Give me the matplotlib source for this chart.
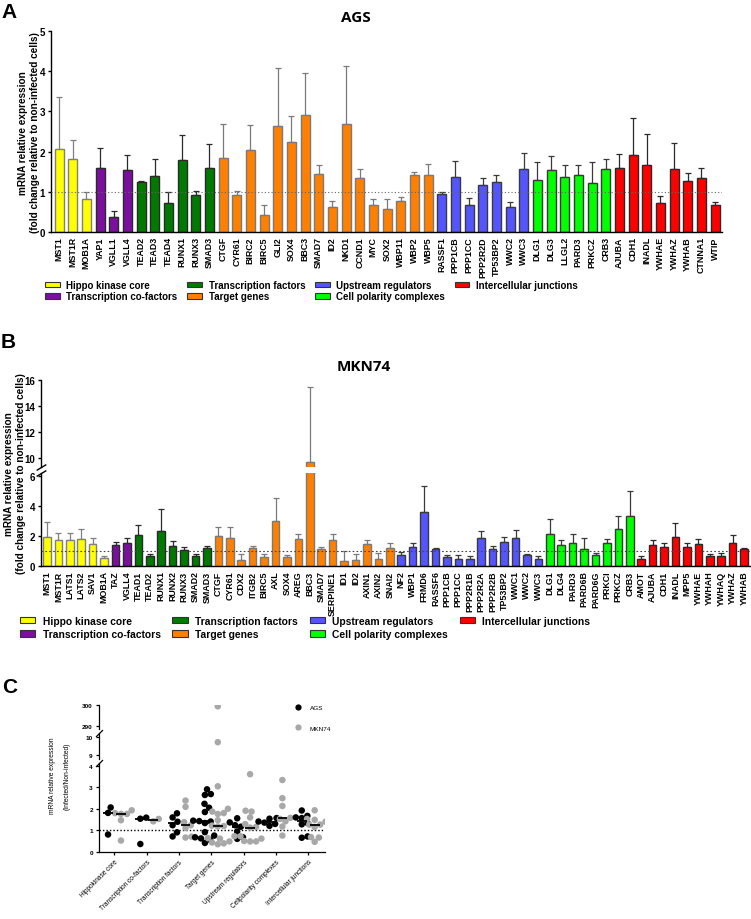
import matplotlib
matplotlib.use('Agg')
import matplotlib.pyplot as plt
import numpy as np
from matplotlib.patches import Patch
from matplotlib.lines import Line2D

plt.rcParams['font.family'] = ['Liberation Sans', 'DejaVu Sans']

# ---------------- data ----------------
group_names = ['Hippo kinase core', 'Transcription co-factors', 'Transcription factors',
               'Target genes', 'Upstream regulators', 'Cell polarity complexes',
               'Intercellular junctions']
group_colors = ['#FFFF00', '#7B0FA0', '#007A00', '#FF8000', '#5555FF', '#00FF00', '#FF0000']
group_edges = ['#808080', '#2a2a2a', '#2a2a2a', '#7a7a7a', '#3a3a3a', '#3a3a3a', '#2a2a2a']

ags_genes = ['MST1', 'MST1R', 'MOB1A', 'YAP1', 'VGLL1', 'VGLL4', 'TEAD2', 'TEAD3', 'TEAD4',
             'RUNX1', 'RUNX3', 'SMAD3', 'CTGF', 'CYR61', 'BIRC2', 'BIRC5', 'GLI2', 'SOX4',
             'BBC3', 'SMAD7', 'ID2', 'NKD1', 'CCND1', 'MYC', 'SOX2', 'WBP11', 'WBP2', 'WBP5',
             'RASSF1', 'PPP1CB', 'PPP1CC', 'PPP2R2D', 'TP53BP2', 'WWC2', 'WWC3', 'DLG1',
             'DLG3', 'LLGL2', 'PARD3', 'PRKCZ', 'CRB3', 'AJUBA', 'CDH1', 'INADL', 'YWHAE',
             'YWHAZ', 'YWHAB', 'CTNNA1', 'WTIP']
ags_group_sizes = [3, 3, 6, 16, 7, 6, 8]
ags_values = [2.06, 1.81, 0.81, 1.59, 0.37, 1.54, 1.24, 1.40, 0.72, 1.79, 0.91, 1.60,
              1.85, 0.92, 2.05, 0.42, 2.64, 2.23, 2.90, 1.45, 0.63, 2.68, 1.34, 0.68,
              0.56, 0.76, 1.41, 1.43, 0.95, 1.37, 0.68, 1.17, 1.24, 0.61, 1.56,
              1.30, 1.54, 1.36, 1.41, 1.21, 1.57, 1.60, 1.92, 1.67, 0.72, 1.57, 1.28,
              1.34, 0.66]
ags_upper = [3.36, 2.28, 1.00, 2.08, 0.53, 1.91, 1.28, 1.81, 1.00, 2.41, 1.03, 2.18,
             2.69, 1.03, 2.65, 0.66, 4.08, 2.88, 3.95, 1.66, 0.78, 4.12, 1.56, 0.83,
             0.81, 0.86, 1.49, 1.69, 1.00, 1.76, 0.85, 1.35, 1.43, 0.74, 1.96,
             1.74, 1.88, 1.67, 1.66, 1.73, 1.81, 1.94, 2.84, 2.43, 0.89, 2.21, 1.46,
             1.59, 0.74]

mkn_genes = ['MST1', 'MST1R', 'LATS1', 'LATS2', 'SAV1', 'MOB1A', 'TAZ', 'VGLL4', 'TEAD1',
             'TEAD2', 'RUNX1', 'RUNX2', 'RUNX3', 'SMAD2', 'SMAD3', 'CTGF', 'CYR61', 'CDX2',
             'ITGB2', 'BIRC5', 'AXL', 'SOX4', 'AREG', 'BBC3', 'SMAD7', 'SERPINE1', 'ID1',
             'ID2', 'AXIN1', 'AXIN2', 'SNAI2', 'NF2', 'WBP1', 'FRMD6', 'RASSF6', 'PPP1CB',
             'PPP1CC', 'PPP2R1B', 'PPP2R2A', 'PPP2R2B', 'TP53BP2', 'WWC1', 'WWC2', 'WWC3',
             'DLG1', 'DLG4', 'PARD3', 'PARD6B', 'PARD6G', 'PRKCI', 'PRKCZ', 'CRB3', 'AMOT',
             'AJUBA', 'CDH1', 'INADL', 'MPP5', 'YWHAE', 'YWHAH', 'YWHAQ', 'YWHAZ', 'YWHAB']
mkn_group_sizes = [6, 2, 7, 16, 13, 8, 10]
mkn_values = [1.93, 1.76, 1.76, 1.80, 1.47, 0.53, 1.42, 1.53, 2.09, 0.67, 2.38, 1.38,
              1.11, 0.71, 1.24, 2.00, 1.87, 0.44, 1.20, 0.62, 3.04, 0.64, 1.80, 9.70,
              1.18, 1.76, 0.36, 0.40, 1.47, 0.49, 1.22, 0.73, 1.29, 3.60, 1.16, 0.62,
              0.51, 0.49, 1.87, 1.13, 1.60, 1.91, 0.73, 0.49, 2.13, 1.42, 1.58, 1.18,
              0.76, 1.53, 2.49, 3.33, 0.47, 1.40, 1.27, 1.93, 1.27, 1.49, 0.69, 0.67,
              1.53, 1.16]
mkn_upper = [2.98, 2.24, 2.20, 2.51, 1.87, 0.67, 1.64, 1.91, 2.76, 0.82, 3.84, 1.67,
             1.29, 0.84, 1.38, 2.64, 2.64, 0.84, 1.38, 0.82, 4.53, 0.78, 2.18, 15.46,
             1.29, 2.18, 1.02, 0.80, 1.78, 0.87, 1.53, 0.93, 1.58, 5.38, 1.24, 0.78,
             0.76, 0.71, 2.33, 1.38, 1.98, 2.40, 0.80, 0.67, 3.13, 1.73, 2.16, 1.87,
             0.91, 1.84, 3.36, 5.00, 0.67, 1.73, 1.53, 2.87, 1.58, 1.84, 0.84, 0.87,
             2.07, 1.22]

c_categories = ['Hippokinase core', 'Transcription co-factors', 'Transcription factors',
                'Target genes', 'Upstream regulators', 'Cellpolarity complexes',
                'Intercellular junctions']
c_mkn74_target_extra = [299.5]

# ---------------- helpers ----------------
W, H = 751, 920
fig = plt.figure(figsize=(W / 100, H / 100), dpi=100)


def fx(px):
    return px / W


def fy(py):
    return 1 - py / H


def rect(x0, x1, ytop, ybot):
    return [fx(x0), fy(ybot), (x1 - x0) / W, (ybot - ytop) / H]


def expand(sizes, items):
    out = []
    for s, it in zip(sizes, items):
        out += [it] * s
    return out


def style_axis(ax, lw=1.0):
    for s in ['top', 'right']:
        ax.spines[s].set_visible(False)
    for s in ['left', 'bottom']:
        ax.spines[s].set_linewidth(lw)
    ax.tick_params(width=lw, length=2.5, pad=1.5, color='black')


def draw_bars(ax, values, upper, sizes):
    x = np.arange(len(values))
    cols = expand(sizes, group_colors)
    edges = expand(sizes, group_edges)
    vals = np.array(values)
    up = np.array(upper)
    ax.bar(x, vals, width=0.66, color=cols, edgecolor=edges, linewidth=1.0, zorder=2)
    for xi, v, u, e in zip(x, vals, up, edges):
        ax.errorbar([xi], [v], yerr=[[0], [u - v]], fmt='none', ecolor=e,
                    elinewidth=0.9, capsize=2.0, capthick=0.9, zorder=1)
    return x


def group_legend(anchor, size, colsp, lsp):
    handles = [Patch(facecolor=c, edgecolor='#333333', linewidth=0.8) for c in group_colors]
    fig.legend(handles, group_names, loc='upper left', bbox_to_anchor=anchor, ncol=4,
               frameon=False, prop={'weight': 'bold', 'size': size}, handlelength=1.5,
               handleheight=0.55, handletextpad=0.7, columnspacing=colsp,
               labelspacing=lsp, borderpad=0, borderaxespad=0)


# ---------------- Panel A ----------------
axA = fig.add_axes(rect(50.7, 722, 32, 233))
xA = draw_bars(axA, ags_values, ags_upper, ags_group_sizes)
axA.axhline(1, color='#666666', lw=0.8, ls=(0, (1, 2)), zorder=3)
axA.set_xlim(-0.61, len(ags_values) - 1 + 0.51)
axA.set_ylim(0, 5)
axA.set_yticks([0, 1, 2, 3, 4, 5])
style_axis(axA)
axA.set_xticks(xA)
axA.set_xticklabels(ags_genes, rotation=90, fontsize=6.4, fontweight='bold')
axA.tick_params(axis='x', length=0, pad=3)
for t in axA.get_yticklabels():
    t.set_fontsize(7)
    t.set_fontweight('bold')
fig.text(fx(29), fy(133), 'mRNA relative expression\n(fold change relative to non-infected cells)',
         rotation=90, ha='center', va='center', fontsize=7.2, fontweight='bold')
fig.text(fx(356), fy(18), 'AGS', ha='center', va='center', fontsize=11, fontweight='bold',
         family=['Open Sans', 'DejaVu Sans'])
fig.text(fx(1), fy(3), 'A', ha='left', va='top', fontsize=15, fontweight='bold')
group_legend((fx(45), fy(281)), 7.0, 1.0, 0.12)

# ---------------- Panel B ----------------
axBl = fig.add_axes(rect(40.7, 750, 474.3, 567.3))
axBu = fig.add_axes(rect(40.7, 750, 381, 467.8), sharex=axBl)
for ax in (axBl, axBu):
    xB = draw_bars(ax, mkn_values, mkn_upper, mkn_group_sizes)
    style_axis(ax)
axBl.axhline(1, color='#444444', lw=0.8, ls=(0, (1.5, 2)), zorder=3)
axBl.set_ylim(0, 6.2)
axBl.set_yticks([0, 2, 4, 6])
axBu.set_ylim(9.3, 16)
axBu.set_yticks([10, 12, 14, 16])
axBu.spines['bottom'].set_visible(False)
axBu.tick_params(axis='x', bottom=False, labelbottom=False)
axBu.patch.set_alpha(0)
axBl.set_xlim(-0.55, len(mkn_values) - 1 + 0.52)
axBl.set_xticks(xB)
axBl.set_xticklabels(mkn_genes, rotation=90, fontsize=6.4, fontweight='bold')
axBl.tick_params(axis='x', length=0, pad=3)
for ax in (axBl, axBu):
    for t in ax.get_yticklabels():
        t.set_fontsize(7)
        t.set_fontweight('bold')
brk = dict(marker=[(-1, -0.6), (1, 0.6)], markersize=7, linestyle='none', color='k',
           mec='k', mew=1.0, clip_on=False)
axBl.plot([0], [1], transform=axBl.transAxes, **brk)
axBu.plot([0], [0], transform=axBu.transAxes, **brk)
fig.text(fx(15), fy(474), 'mRNA relative expression\n(fold change relative to non-infected cells)',
         rotation=90, ha='center', va='center', fontsize=7.2, fontweight='bold')
fig.text(fx(364), fy(367), 'MKN74', ha='center', va='center', fontsize=11, fontweight='bold',
         family=['Open Sans', 'DejaVu Sans'])
fig.text(fx(1), fy(333), 'B', ha='left', va='top', fontsize=15, fontweight='bold')
group_legend((fx(20), fy(617)), 7.4, 1.15, 0.3)

# ---------------- Panel C ----------------
axCl = fig.add_axes(rect(99, 325, 764.4, 853))
axCm = fig.add_axes(rect(99, 325, 734, 759.7), sharex=axCl)
axCu = fig.add_axes(rect(99, 325, 705.7, 729.7), sharex=axCl)
axCl.set_ylim(0, 4.1)
axCm.set_ylim(8.8, 10.2)
axCu.set_ylim(288.5, 300.3)
axCl.set_yticks([0, 1, 2, 3, 4])
axCm.set_yticks([9, 10])
axCu.set_yticks([290, 300])
for ax in (axCl, axCm, axCu):
    style_axis(ax, lw=0.9)
    ax.tick_params(labelsize=4.6, length=2.5, pad=2)
    for t in ax.get_yticklabels():
        t.set_fontweight('bold')
for ax in (axCm, axCu):
    ax.spines['bottom'].set_visible(False)
    ax.tick_params(axis='x', bottom=False, labelbottom=False)
    ax.patch.set_alpha(0)
brkC = dict(marker=[(-1, -1), (1, 1)], markersize=5, linestyle='none', color='k',
            mec='k', mew=0.9, clip_on=False)
axCl.plot([0], [1], transform=axCl.transAxes, **brkC)
axCm.plot([0], [1], transform=axCm.transAxes, **brkC)
axCl.axhline(1, color='black', lw=1.0, ls=(0, (1, 1.5)), zorder=1)
axCl.set_xlim(-0.48, 6.52)
axCl.set_xticks(np.arange(len(c_categories)))
axCl.set_xticklabels(c_categories, rotation=45, ha='right', rotation_mode='anchor',
                     fontsize=4.7)


def split_groups(values, sizes):
    out, i = [], 0
    for s in sizes:
        out.append(list(values[i:i + s]))
        i += s
    return out


ags_groups = split_groups(ags_values, ags_group_sizes)
mkn_groups = split_groups(mkn_values, mkn_group_sizes)
mkn_groups[3] = mkn_groups[3] + c_mkn74_target_extra


def ypix(v):
    if v <= 4.1:
        return v * 21.6
    if v <= 10.2:
        return 1000 + v * 18.3
    return 2000 + v * 2.0


def swarm(vals, d=6.0):
    vals = np.asarray(vals, dtype=float)
    xs = np.zeros(len(vals))
    placed = []
    for i in np.argsort(vals):
        y = ypix(vals[i])
        cands = [0.0]
        for px, py in placed:
            dy = y - py
            if abs(dy) < d:
                dx = np.sqrt(d * d - dy * dy)
                cands += [px + dx, px - dx]
        cands.sort(key=lambda c: (abs(c), -c))
        for c in cands:
            if all((c - px) ** 2 + (y - py) ** 2 >= d * d - 1e-6 for px, py in placed):
                xs[i] = c
                break
        placed.append((xs[i], y))
    return xs


px_per_cat = 32.3
for gi in range(len(c_categories)):
    for grp, side, col in ((ags_groups[gi], -0.2, 'black'), (mkn_groups[gi], 0.2, '#a8a8a8')):
        vals = np.array(grp)
        xs = gi + side + swarm(vals) / px_per_cat
        for ax in (axCl, axCm, axCu):
            ax.scatter(xs, vals, s=22, color=col, edgecolors='none', zorder=3, clip_on=True)
        med = np.median(vals)
        axCl.hlines(med, gi + side - 0.15, gi + side + 0.15, color='black', lw=1.3, zorder=4)

handlesC = [Line2D([], [], marker='o', ls='none', color='black', markersize=4.5, mec='none'),
            Line2D([], [], marker='o', ls='none', color='#a8a8a8', markersize=4.5, mec='none')]
fig.legend(handlesC, ['AGS', 'MKN74'], loc='upper left', bbox_to_anchor=(fx(294), fy(706)),
           frameon=False, fontsize=4.6, handlelength=1.2, handletextpad=1.3,
           labelspacing=2.3, borderpad=0, borderaxespad=0)
fig.text(fx(60), fy(776), 'mRNA relative expression\n(Infected/Non-infected)', rotation=90,
         ha='center', va='center', fontsize=4.8, linespacing=2.6)
fig.text(fx(2), fy(678), 'C', ha='left', va='top', fontsize=15, fontweight='bold')

fig.savefig('out.png', dpi=100)
